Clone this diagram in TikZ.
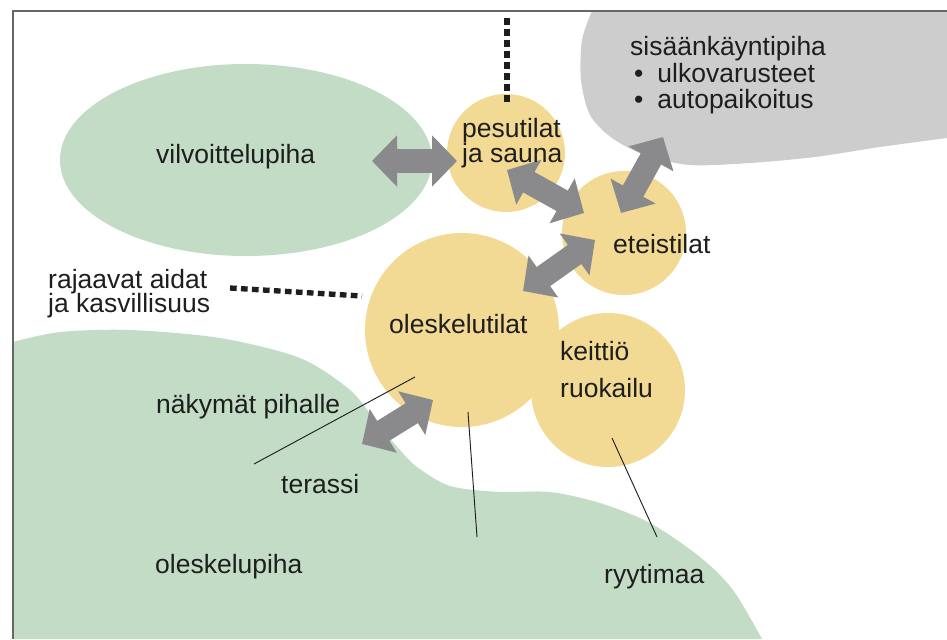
\documentclass[tikz,border=0pt]{standalone}
\usepackage{fontspec}
\setmainfont{Liberation Sans}
\usetikzlibrary{arrows.meta, positioning}
\definecolor{pihagreen}{RGB}{194,220,198}
\definecolor{tilayellow}{RGB}{242,218,148}
\definecolor{tulogray}{RGB}{205,205,205}
\definecolor{nuoligray}{RGB}{138,138,140}
\definecolor{tekstiblack}{RGB}{30,30,30}

\begin{document}
\begin{tikzpicture}[x=0.03cm, y=-0.03cm, font=\fontsize{22.6}{26}\selectfont,
    tila/.style={circle, fill=tilayellow, inner sep=0pt},
    teksti/.style={anchor=base west, inner sep=0pt, text=tekstiblack},
    nuoli/.style={nuoligray, line width=0.7cm, arrows={Triangle[length=0.75cm, width=1.5cm]-Triangle[length=0.75cm, width=1.5cm]}},
    aita/.style={tekstiblack, line width=0.16cm, dash pattern=on 0.2cm off 0.13cm},
    viiva/.style={tekstiblack, line width=0.8pt}]
    \useasboundingbox (0,0) rectangle (947,639);

    % pihat
    \fill[pihagreen] (246,160) ellipse [x radius=186, y radius=96];
    \fill[tulogray] (592,11) -- plot[smooth] coordinates {(592,11) (582,40) (581,80) (590,115) (612,138) (645,155) (690,165) (750,163) (815,157) (880,147) (947,138)} -- (947,11) -- cycle;
    \fill[pihagreen] plot[smooth] coordinates {(13,342) (60,332) (130,330) (220,338) (300,358) (350,390) (377,423) (400,450) (417,467) (450,486) (500,492) (550,492) (600,503) (650,523) (700,557) (733,590) (762,639)} -- (13,639) -- cycle;

    % tilat
    \node[tila, minimum size=3.54cm] (pesu) at (506,153) {};
    \node[tila, minimum size=3.72cm] (etei) at (624,233) {};
    \node[tila, minimum size=5.82cm] (olesk) at (462,330) {};
    \node[tila, minimum size=4.62cm] (keit) at (608,390) {};

    % nuolet
    \coordinate (n1a) at (372,161); \coordinate (n1b) at (457,161);
    \coordinate (n2a) at (507,170); \coordinate (n2b) at (584,213);
    \coordinate (n3a) at (595,240); \coordinate (n3b) at (523,291);
    \coordinate (n4a) at (663,137); \coordinate (n4b) at (621,213);
    \coordinate (n5a) at (433,400); \coordinate (n5b) at (362,444);
    \draw[nuoli] (n1a) -- (n1b);
    \draw[nuoli] (n2a) -- (n2b);
    \draw[nuoli] (n3a) -- (n3b);
    \draw[nuoli] (n4a) -- (n4b);
    \draw[nuoli] (n5a) -- (n5b);

    % aidat
    \coordinate (aitaA) at (507,18); \coordinate (aitaB) at (507,106);
    \coordinate (aitaC) at (230,288); \coordinate (aitaD) at (362,296);
    \draw[aita] (aitaA) -- (aitaB);
    \draw[aita] (aitaC) -- (aitaD);

    % viivat
    \coordinate (v1a) at (415,377); \coordinate (v1b) at (254,464);
    \coordinate (v2a) at (468,412); \coordinate (v2b) at (477,537);
    \coordinate (v3a) at (612,438); \coordinate (v3b) at (657,537);
    \draw[viiva] (v1a) -- (v1b);
    \draw[viiva] (v2a) -- (v2b);
    \draw[viiva] (v3a) -- (v3b);

    % tekstit
    \node[teksti] (vilvoT) at (156,163) {vilvoittelupiha};
    \node[teksti] (pesuT) at (462,137) {pesutilat};
    \node[teksti] (saunaT) at (462,162) {ja sauna};
    \node[teksti] (sisaT) at (630,55) {sisäänkäyntipiha};
    \node[teksti] (ulkoT) at (634,82) {•\hspace{0.42cm}ulkovarusteet};
    \node[teksti] (autoT) at (634,108) {•\hspace{0.42cm}autopaikoitus};
    \node[teksti] (eteiT) at (613,253) {eteistilat};
    \node[teksti] (rajaT) at (48,288) {rajaavat aidat};
    \node[teksti] (kasviT) at (48,312) {ja kasvillisuus};
    \node[teksti] (oleskT) at (389,333) {oleskelutilat};
    \node[teksti] (keitT) at (560,360) {keittiö};
    \node[teksti] (ruokaT) at (560,397) {ruokailu};
    \node[teksti] (nakyT) at (156,413) {näkymät pihalle};
    \node[teksti] (terasT) at (281,493) {terassi};
    \node[teksti] (olpihaT) at (155,573) {oleskelupiha};
    \node[teksti] (ryytiT) at (604,583) {ryytimaa};

    % kehys
    \draw[black!60, line width=0.06cm] (13,639) -- (13,11) -- (947,11);
\end{tikzpicture}
\end{document}
